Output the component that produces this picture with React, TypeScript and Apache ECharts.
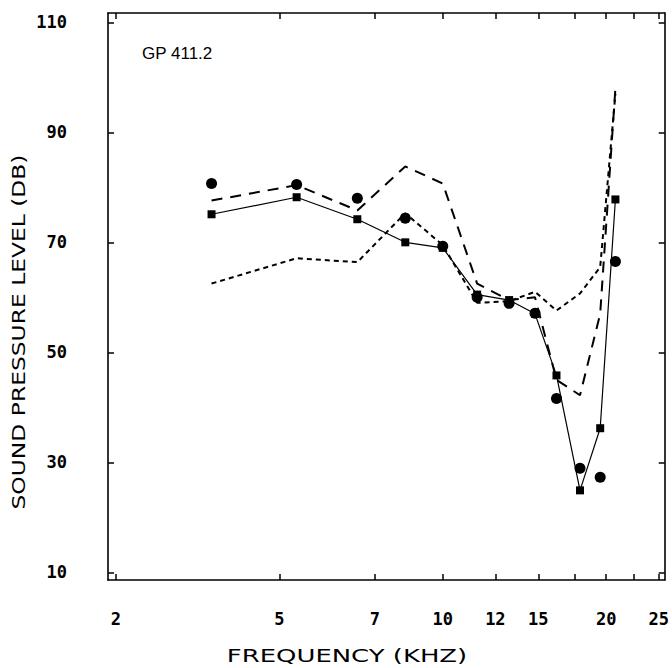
import React, { useEffect, useRef } from "react";
import * as echarts from "echarts";

// Frequencies (kHz) at which the curves are sampled
const freqs = [3.75, 5.38, 6.96, 8.53, 10.0, 11.57, 13.25, 14.79, 16.2, 17.9, 19.5, 20.8];
// Filled circles (markers only)
const circleVals = [80.7, 80.5, 78, 74.4, 69.3, 60, 58.9, 57.1, 41.6, 28.9, 27.3, 66.5];
// Solid line with squares
const squareVals = [75.1, 78.2, 74.2, 70, 69, 60.5, 59.5, 57, 45.8, 24.9, 36.2, 77.8];
// Long dashed line
const longDashVals = [77.6, 80.4, 75.8, 83.8, 80.7, 62.5, 59.5, 60, 45, 42.2, 57, 98];
// Short dashed line
const shortDashVals = [62.5, 67.1, 66.4, 75.3, 69.5, 59, 59.3, 61, 57.6, 60.7, 65.5, 97];

const xTickValues = [2.5, 5, 7.5, 10, 12.5, 15, 17.5, 20, 22.5, 25];
const xLabelValues = [2.5, 5, 7.5, 10, 12.5, 15, 20, 25];
const yTickValues = [10, 30, 50, 70, 90, 110];

const X_MIN = 2.417;
const X_MAX = 25.64;
const Y_MIN = 8.6;
const Y_MAX = 111.7;

const pairs = (vals: number[]) => freqs.map((f, i) => [f, vals[i]]);

export default function App() {
  const ref = useRef<HTMLDivElement>(null);
  useEffect(() => {
    if (!ref.current) return;
    const chart = echarts.init(ref.current, undefined, { renderer: "svg" });
    const labelFont = {
      fontFamily: "DejaVu Sans Mono",
      fontWeight: "bold" as const,
      fontSize: 17,
      color: "#000",
    };
    const axisLine = { show: true, lineStyle: { color: "#000", width: 1.6 } };
    const tickStyle = { lineStyle: { color: "#000", width: 1.5 } };
    const option: any = {
      animation: false,
      backgroundColor: "#fff",
      grid: { left: 108, right: 6, top: 13, bottom: 88, containLabel: false },
      xAxis: [
        {
          type: "log",
          min: X_MIN,
          max: X_MAX,
          position: "bottom",
          axisLine,
          axisTick: { show: true, inside: true, length: 6, customValues: xTickValues, ...tickStyle },
          minorTick: { show: false },
          axisLabel: {
            ...labelFont,
            margin: 30,
            customValues: xLabelValues,
            formatter: (v: number) => String(Math.floor(v)),
          },
          splitLine: { show: false },
        },
        {
          type: "log",
          min: X_MIN,
          max: X_MAX,
          position: "top",
          axisLine,
          axisTick: { show: true, inside: true, length: 6, customValues: xTickValues, ...tickStyle },
          axisLabel: { show: false },
          splitLine: { show: false },
        },
      ],
      yAxis: [
        {
          type: "value",
          min: Y_MIN,
          max: Y_MAX,
          position: "left",
          axisLine,
          axisTick: { show: true, inside: true, length: 6, customValues: yTickValues, ...tickStyle },
          axisLabel: { ...labelFont, margin: 41, customValues: yTickValues },
          splitLine: { show: false },
        },
        {
          type: "value",
          min: Y_MIN,
          max: Y_MAX,
          position: "right",
          axisLine,
          axisTick: { show: true, inside: true, length: 6, customValues: yTickValues, ...tickStyle },
          axisLabel: { show: false },
          splitLine: { show: false },
        },
      ],
      graphic: [
        {
          type: "text",
          x: 142,
          y: 45,
          style: { text: "GP 411.2", fontFamily: "Liberation Sans", fontSize: 17, fill: "#000" },
        },
        {
          type: "text",
          x: 347,
          y: 656,
          scaleX: 1.44,
          style: {
            text: "FREQUENCY (KHZ)",
            fontFamily: "DejaVu Sans",
            fontSize: 18,
            fill: "#000",
            align: "center",
            verticalAlign: "middle",
          },
        },
        {
          type: "text",
          x: 19,
          y: 332,
          rotation: Math.PI / 2,
          scaleX: 1.3,
          style: {
            text: "SOUND PRESSURE LEVEL (DB)",
            fontFamily: "DejaVu Sans",
            fontSize: 18,
            fill: "#000",
            align: "center",
            verticalAlign: "middle",
          },
        },
      ],
      series: [
        {
          name: "long dash",
          type: "line",
          data: pairs(longDashVals),
          symbol: "none",
          lineStyle: { color: "#000", width: 2, type: [11, 8] },
        },
        {
          name: "short dash",
          type: "line",
          data: pairs(shortDashVals),
          symbol: "none",
          lineStyle: { color: "#000", width: 2, type: [5, 4] },
        },
        {
          name: "squares",
          type: "line",
          data: pairs(squareVals),
          symbol: "rect",
          symbolSize: 8,
          itemStyle: { color: "#000" },
          lineStyle: { color: "#000", width: 1.2 },
        },
        {
          name: "circles",
          type: "scatter",
          data: pairs(circleVals),
          symbol: "circle",
          symbolSize: 11,
          itemStyle: { color: "#000", opacity: 1 },
        },
      ],
    };
    chart.setOption(option);
    return () => chart.dispose();
  }, []);
  return (
    <div
      ref={ref}
      style={{ position: "absolute", left: 0, top: 0, width: 672, height: 668 }}
    />
  );
}
